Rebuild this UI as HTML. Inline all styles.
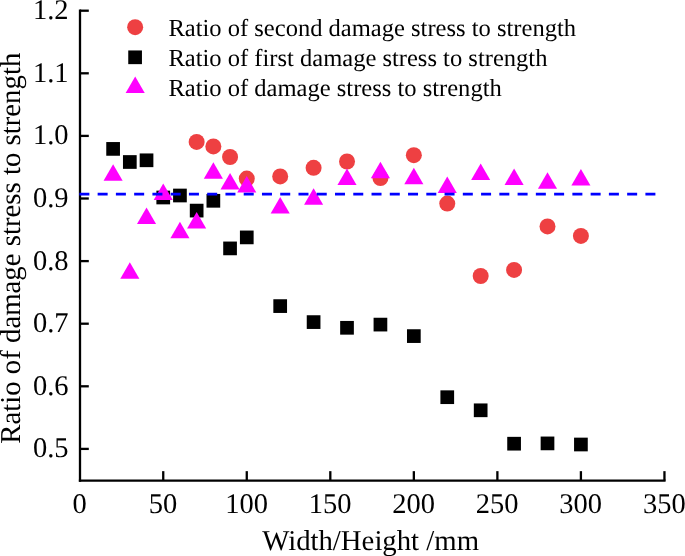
<!DOCTYPE html>
<html><head><meta charset="utf-8"><title>chart</title>
<style>html,body{margin:0;padding:0;background:#fff;overflow:hidden}svg{display:block;will-change:transform}text{font-family:"Liberation Serif",serif;fill:#000;text-rendering:geometricPrecision}</style>
</head><body>
<svg width="685" height="556" viewBox="0 0 685 556">
<rect width="685" height="556" fill="#fff"/>
<g stroke="#000" stroke-width="2.3" fill="none" stroke-linecap="butt">
<path d="M80.00 9.55V481.70"/>
<path d="M78.85 480.55H665.60"/>
<path d="M80.00 448.90h8.8"/>
<path d="M80.00 386.30h8.8"/>
<path d="M80.00 323.70h8.8"/>
<path d="M80.00 261.10h8.8"/>
<path d="M80.00 198.50h8.8"/>
<path d="M80.00 135.90h8.8"/>
<path d="M80.00 73.30h8.8"/>
<path d="M80.00 10.70h8.8"/>
<path d="M163.24 480.55v-9.4"/>
<path d="M246.77 480.55v-9.4"/>
<path d="M330.31 480.55v-9.4"/>
<path d="M413.84 480.55v-9.4"/>
<path d="M497.38 480.55v-9.4"/>
<path d="M580.91 480.55v-9.4"/>
<path d="M664.45 480.55v-9.4"/>
</g>
<g font-size="28.5px">
<text x="68.6" y="457.40" text-anchor="end">0.5</text>
<text x="68.6" y="394.80" text-anchor="end">0.6</text>
<text x="68.6" y="332.20" text-anchor="end">0.7</text>
<text x="68.6" y="269.60" text-anchor="end">0.8</text>
<text x="68.6" y="207.00" text-anchor="end">0.9</text>
<text x="68.6" y="144.40" text-anchor="end">1.0</text>
<text x="68.6" y="81.80" text-anchor="end">1.1</text>
<text x="68.6" y="19.20" text-anchor="end">1.2</text>
<text x="79.50" y="513.0" text-anchor="middle">0</text>
<text x="163.04" y="513.0" text-anchor="middle">50</text>
<text x="246.57" y="513.0" text-anchor="middle">100</text>
<text x="330.11" y="513.0" text-anchor="middle">150</text>
<text x="413.64" y="513.0" text-anchor="middle">200</text>
<text x="497.18" y="513.0" text-anchor="middle">250</text>
<text x="580.71" y="513.0" text-anchor="middle">300</text>
<text x="664.25" y="513.0" text-anchor="middle">350</text>
</g>
<text x="370.6" y="549.7" font-size="28.75px" text-anchor="middle">Width/Height /mm</text>
<text transform="translate(20.3 248.25) rotate(-90)" font-size="28.8px" text-anchor="middle">Ratio of damage stress to strength</text>
<g fill="#ee4042">
<circle cx="196.65" cy="141.90" r="8.0"/>
<circle cx="213.36" cy="146.40" r="8.0"/>
<circle cx="230.06" cy="157.00" r="8.0"/>
<circle cx="246.77" cy="178.60" r="8.0"/>
<circle cx="280.19" cy="176.40" r="8.0"/>
<circle cx="313.60" cy="167.80" r="8.0"/>
<circle cx="347.01" cy="161.50" r="8.0"/>
<circle cx="380.43" cy="178.10" r="8.0"/>
<circle cx="413.84" cy="155.20" r="8.0"/>
<circle cx="447.26" cy="203.60" r="8.0"/>
<circle cx="480.67" cy="276.00" r="8.0"/>
<circle cx="514.09" cy="269.90" r="8.0"/>
<circle cx="547.50" cy="226.40" r="8.0"/>
<circle cx="580.91" cy="235.90" r="8.0"/>
<circle cx="135.15" cy="27.2" r="8.0"/>
</g>
<g fill="#000">
<rect x="106.26" y="142.05" width="13.7" height="13.7"/>
<rect x="122.97" y="155.15" width="13.7" height="13.7"/>
<rect x="139.68" y="153.45" width="13.7" height="13.7"/>
<rect x="156.39" y="190.65" width="13.7" height="13.7"/>
<rect x="173.09" y="188.65" width="13.7" height="13.7"/>
<rect x="189.80" y="203.75" width="13.7" height="13.7"/>
<rect x="206.51" y="193.95" width="13.7" height="13.7"/>
<rect x="223.21" y="241.55" width="13.7" height="13.7"/>
<rect x="239.92" y="230.55" width="13.7" height="13.7"/>
<rect x="273.34" y="299.25" width="13.7" height="13.7"/>
<rect x="306.75" y="315.25" width="13.7" height="13.7"/>
<rect x="340.16" y="320.95" width="13.7" height="13.7"/>
<rect x="373.58" y="317.75" width="13.7" height="13.7"/>
<rect x="406.99" y="329.25" width="13.7" height="13.7"/>
<rect x="440.41" y="390.35" width="13.7" height="13.7"/>
<rect x="473.82" y="403.45" width="13.7" height="13.7"/>
<rect x="507.24" y="436.85" width="13.7" height="13.7"/>
<rect x="540.65" y="436.55" width="13.7" height="13.7"/>
<rect x="574.06" y="437.65" width="13.7" height="13.7"/>
<rect x="128.25" y="50.45" width="13.7" height="13.7"/>
</g>
<g fill="#ff00ff">
<path d="M113.11 164.20l9.55 16.50h-19.10z"/>
<path d="M129.82 262.30l9.55 16.50h-19.10z"/>
<path d="M146.53 207.40l9.55 16.50h-19.10z"/>
<path d="M163.24 183.50l9.55 16.50h-19.10z"/>
<path d="M179.94 221.70l9.55 16.50h-19.10z"/>
<path d="M196.65 212.00l9.55 16.50h-19.10z"/>
<path d="M213.36 162.30l9.55 16.50h-19.10z"/>
<path d="M230.06 173.10l9.55 16.50h-19.10z"/>
<path d="M246.77 176.10l9.55 16.50h-19.10z"/>
<path d="M280.19 197.00l9.55 16.50h-19.10z"/>
<path d="M313.60 188.20l9.55 16.50h-19.10z"/>
<path d="M347.01 168.60l9.55 16.50h-19.10z"/>
<path d="M380.43 161.80l9.55 16.50h-19.10z"/>
<path d="M413.84 167.80l9.55 16.50h-19.10z"/>
<path d="M447.26 176.60l9.55 16.50h-19.10z"/>
<path d="M480.67 163.60l9.55 16.50h-19.10z"/>
<path d="M514.09 168.50l9.55 16.50h-19.10z"/>
<path d="M547.50 172.20l9.55 16.50h-19.10z"/>
<path d="M580.91 169.10l9.55 16.50h-19.10z"/>
<path d="M135.20 76.50l9.55 16.50h-19.10z"/>
</g>
<path d="M79.38 194.1H655.4" stroke="#0000ff" stroke-width="2.6" stroke-dasharray="10 8.259" fill="none"/>
<g font-size="24.55px">
<text x="168.4" y="36.2">Ratio of second damage stress to strength</text>
<text x="168.4" y="66.0">Ratio of first damage stress to strength</text>
<text x="168.4" y="95.8">Ratio of damage stress to strength</text>
</g>
</svg>
</body></html>
